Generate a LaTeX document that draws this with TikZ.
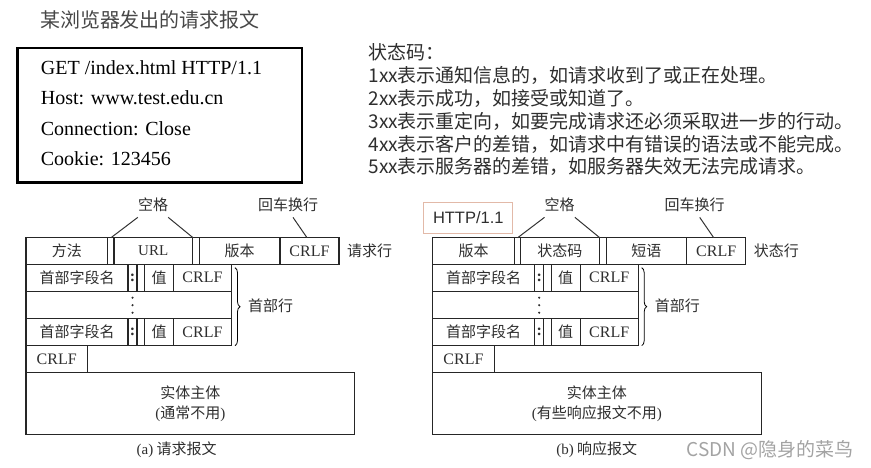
\documentclass[tikz,border=0pt]{standalone}
\usepackage{fontspec}
\setmainfont{Liberation Serif}
\newfontfamily\cjk{Noto Sans CJK SC}
\newfontfamily\sansfont{Liberation Sans}
\usetikzlibrary{calc, positioning}
\usetikzlibrary{decorations.pathreplacing}
\definecolor{txtgray}{HTML}{2E2E2E}
\definecolor{titlegray}{HTML}{474747}
\definecolor{boxedge}{HTML}{E2B9A8}
\definecolor{markgray}{HTML}{A3A3A3}
\tikzset{
  msgline/.style={line width=1.2pt, draw=black!85},
  leader/.style={line width=1pt, draw=black!80},
  cell/.style={inner sep=0pt, text=txtgray, font=\fontsize{16}{18}\selectfont},
  cjkcell/.style={inner sep=0pt, text=txtgray, font=\cjk\fontsize{15}{20}\selectfont},
  reqtext/.style={anchor=base west, inner sep=0pt, text=black, font=\fontsize{20}{24}\selectfont},
  codetext/.style={anchor=base west, inner sep=0pt, text=txtgray, font=\cjk\fontsize{19}{22}\selectfont},
}

\begin{document}
\begin{tikzpicture}[x=1pt,y=-1pt]
\useasboundingbox (0,0) rectangle (871,468);

% sample request message
\node[inner sep=0pt, text=titlegray, font=\cjk\fontsize{20}{24}\selectfont] (title) at (150,20) {某浏览器发出的请求报文};
\draw[line width=2.4pt] (17.3,48.3) rectangle (301.7,182.7);
\node[reqtext] (get) at (40.7,75) {GET /index.html HTTP/1.1};
\node[reqtext] (host) at (40.7,104.8) {Host: www.test.edu.cn};
\node[reqtext] (conn) at (40.7,135.6) {Connection: Close};
\node[reqtext] (cookie) at (40.7,165.4) {Cookie: 123456};

% status codes
\node[codetext] (code0) at (368.3,60) {状态码：};
\node[codetext] (code1) at (368.3,82.8) {1xx表示通知信息的，如请求收到了或正在处理。};
\node[codetext] (code2) at (368.3,105.6) {2xx表示成功，如接受或知道了。};
\node[codetext] (code3) at (368.3,128.4) {3xx表示重定向，如要完成请求还必须采取进一步的行动。};
\node[codetext] (code4) at (368.3,151.2) {4xx表示客户的差错，如请求中有错误的语法或不能完成。};
\node[codetext] (code5) at (368.3,174) {5xx表示服务器的差错，如服务器失效无法完成请求。};

% the two message layouts
\foreach \dx/\p/\fa/\fb/\fc/\side/\note/\capx/\lt/\capt in {%
    26/req/方法/{\rmfamily URL}/版本/请求行/通常不用/150.7/a/请求报文,%
    432.7/res/版本/状态码/短语/状态行/有些响应报文不用/164/b/响应报文} {
  \begin{scope}[shift={(\dx,237.7)}]
    \draw[msgline] (0,0) rectangle (313,26.5);
    \foreach \x in {81.7,88,166.5,173.5,254} \draw[msgline] (\x,0) -- (\x,26.5);
    \draw[msgline] (0,26.5) rectangle (205.5,108);
    \draw[msgline] (0,53.5) -- (205.5,53.5) (0,80.5) -- (205.5,80.5);
    \foreach \x in {102,111,118.5,147.5}
      \draw[msgline] (\x,26.5) -- (\x,53.5) (\x,80.5) -- (\x,108);
    \draw[msgline] (0,108) rectangle (61.5,134.5);
    \draw[msgline] (0,134.5) rectangle (328.5,196.5);

    % first line
    \node[cjkcell] (\p-f1) at (40.8,13.25) {\fa};
    \node[cjkcell] (\p-f2) at (127.2,13.25) {\fb};
    \node[cjkcell] (\p-f3) at (213.7,13.25) {\fc};
    \node[cell] (\p-f4) at (283.5,13.25) {CRLF};
    \node[cjkcell, anchor=west] (\p-side) at (321,13.25) {\side};

    % header lines
    \foreach \y/\r in {40/1,94.2/2} {
      \node[cjkcell] (\p-name\r) at (51,\y) {首部字段名};
      \node[cell] (\p-colon\r) at (106.5,\y) {\textbf{:}};
      \node[cjkcell] (\p-value\r) at (133,\y) {值};
      \node[cell] (\p-crlf\r) at (176.5,\y) {CRLF};
    }
    \foreach \y in {60,67.5,75} \fill[txtgray] (106.5,\y) circle (1.2);
    \draw[decorate, decoration={brace, amplitude=5pt}, line width=0.8pt] (209,30) -- (209,108);
    \node[cjkcell, anchor=west] (\p-head) at (222,68) {首部行};
    \node[cell] (\p-end) at (30.75,121.25) {CRLF};
    \node[cjkcell, align=center] (\p-body) at (164.25,166.5) {实体主体\\{\rmfamily(}\note{\rmfamily)}};
    \node[cjkcell] (\p-cap) at (\capx,212.3) {{\rmfamily(\lt)} \capt};

    % labels with leaders
    \node[cjkcell] (\p-space) at (127,-32.5) {空格};
    \node[cjkcell] (\p-eollabel) at (262,-32.5) {回车换行};
    \coordinate (\p-gap1) at (85,0);
    \coordinate (\p-gap2) at (167,0);
    \coordinate (\p-eol) at (281,0);
    \draw[leader] ([yshift=-5pt]\p-space.south west) -- (\p-gap1);
    \draw[leader] ([yshift=-5pt]\p-space.south east) -- (\p-gap2);
    \draw[leader] ([xshift=5pt, yshift=-5pt]\p-eollabel.south) -- (\p-eol);
  \end{scope}
}

\node[draw=boxedge, line width=1pt, minimum width=88.7pt, minimum height=30.6pt, inner sep=0pt,
      text=txtgray, font=\sansfont\fontsize{16.5}{18}\selectfont] (version) at (468.3,218) {HTTP/1.1};
\node[inner sep=0pt, text=markgray, font=\cjk\fontsize{19}{22}\selectfont] (mark) at (770,450) {CSDN @隐身的菜鸟};
\end{tikzpicture}
\end{document}
